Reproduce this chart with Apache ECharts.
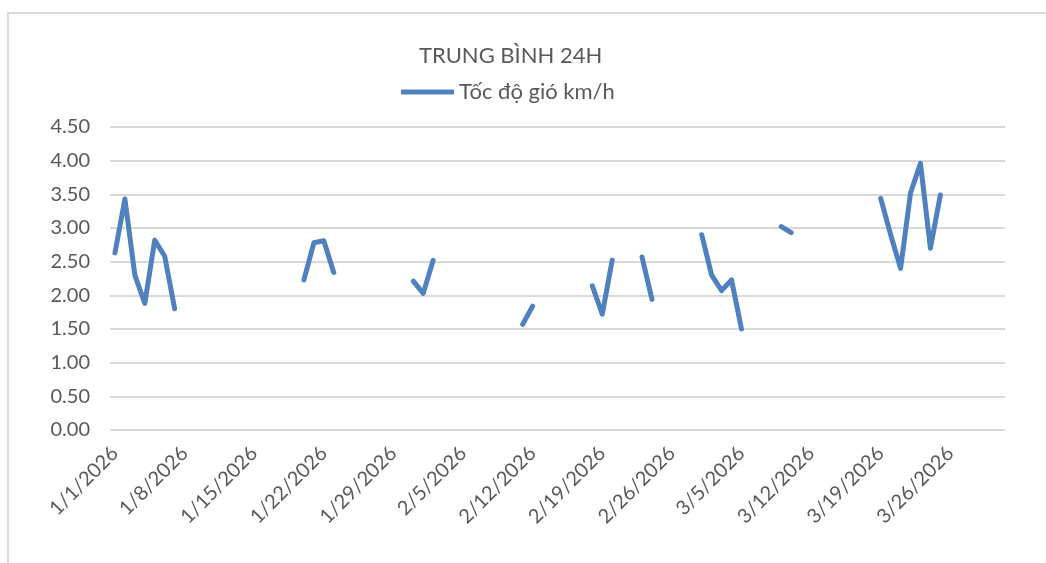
<!DOCTYPE html>
<html lang="vi">
<head>
    <meta charset="UTF-8">
    <title>TRUNG BÌNH 24H</title>
    <script src="https://cdn.jsdelivr.net/npm/echarts@6/dist/echarts.min.js"></script>
    <style>
        html, body { margin: 0; padding: 0; background: #fff; }
        #main { width: 1046px; height: 563px; }
    </style>
</head>
<body>
<div id="main"></div>
<script>
    // ngày 1/1/2026 .. 3/31/2026, mỗi ngày một ô
    const year = 2026;
    const monthDays = [31, 28, 31];
    const dates = [];
    monthDays.forEach(function (n, m) {
        for (let d = 1; d <= n; d++) dates.push((m + 1) + '/' + d + '/' + year);
    });

    // giá trị, ngày nào không có số liệu thì để trống
    const readDates = [
        '1/1/2026', '1/2/2026', '1/3/2026', '1/4/2026', '1/5/2026', '1/6/2026', '1/7/2026',
        '1/20/2026', '1/21/2026', '1/22/2026', '1/23/2026',
        '1/31/2026', '2/1/2026', '2/2/2026',
        '2/11/2026', '2/12/2026',
        '2/18/2026', '2/19/2026', '2/20/2026',
        '2/23/2026', '2/24/2026',
        '3/1/2026', '3/2/2026', '3/3/2026', '3/4/2026', '3/5/2026',
        '3/9/2026', '3/10/2026',
        '3/19/2026', '3/20/2026', '3/21/2026', '3/22/2026', '3/23/2026', '3/24/2026', '3/25/2026'
    ];
    const readValues = [
        2.63, 3.43, 2.30, 1.88, 2.82, 2.58, 1.80,
        2.23, 2.78, 2.81, 2.34,
        2.21, 2.03, 2.52,
        1.57, 1.84,
        2.14, 1.72, 2.52,
        2.57, 1.94,
        2.90, 2.30, 2.07, 2.23, 1.50,
        3.02, 2.93,
        3.44, 2.90, 2.40, 3.52, 3.96, 2.70, 3.49
    ];

    const windSpeed = dates.map(function (d) {
        const i = readDates.indexOf(d);
        return i >= 0 ? readValues[i] : null;
    });

    const font = 'Lato, "Noto Sans", sans-serif';
    const textColor = '#595959';

    let myChart = echarts.init(document.getElementById('main'));
    let option = {
        backgroundColor: '#fff',
        animation: false,
        graphic: [{
            type: 'rect',
            shape: { x: 8, y: 13, width: 1050, height: 560 },
            style: { fill: 'none', stroke: '#d9d9d9', lineWidth: 2 }
        }],
        title: {
            text: 'TRUNG BÌNH 24H',
            left: 414,
            top: 40,
            textStyle: { color: textColor, fontFamily: font, fontSize: 22, fontWeight: 'normal' }
        },
        legend: {
            top: 76,
            left: 396,
            itemWidth: 53,
            itemHeight: 5,
            itemGap: 6,
            icon: 'rect',
            textStyle: { color: textColor, fontFamily: font, fontSize: 22 },
            data: ['Tốc độ gió km/h']
        },
        grid: { left: 110, right: 41, top: 127, bottom: 133 },
        xAxis: {
            type: 'category',
            data: dates,
            boundaryGap: true,
            axisLine: { show: false },
            axisTick: { show: false },
            axisLabel: {
                interval: 6,
                rotate: 45,
                color: textColor,
                fontFamily: font,
                fontSize: 20,
                margin: 20
            },
            splitLine: { show: false }
        },
        yAxis: {
            type: 'value',
            min: 0,
            max: 4.5,
            interval: 0.5,
            axisLine: { show: false },
            axisTick: { show: false },
            axisLabel: {
                color: textColor,
                fontFamily: font,
                fontSize: 20,
                margin: 20,
                formatter: function (v) { return v.toFixed(2); }
            },
            splitLine: { lineStyle: { color: '#d9d9d9', width: 2 } }
        },
        series: [{
            name: 'Tốc độ gió km/h',
            type: 'line',
            data: windSpeed,
            connectNulls: false,
            showSymbol: false,
            symbol: 'none',
            color: '#4e81bd',
            lineStyle: { width: 5, color: '#4e81bd', cap: 'round', join: 'round' }
        }]
    };
    myChart.setOption(option);
</script>
</body>
</html>
